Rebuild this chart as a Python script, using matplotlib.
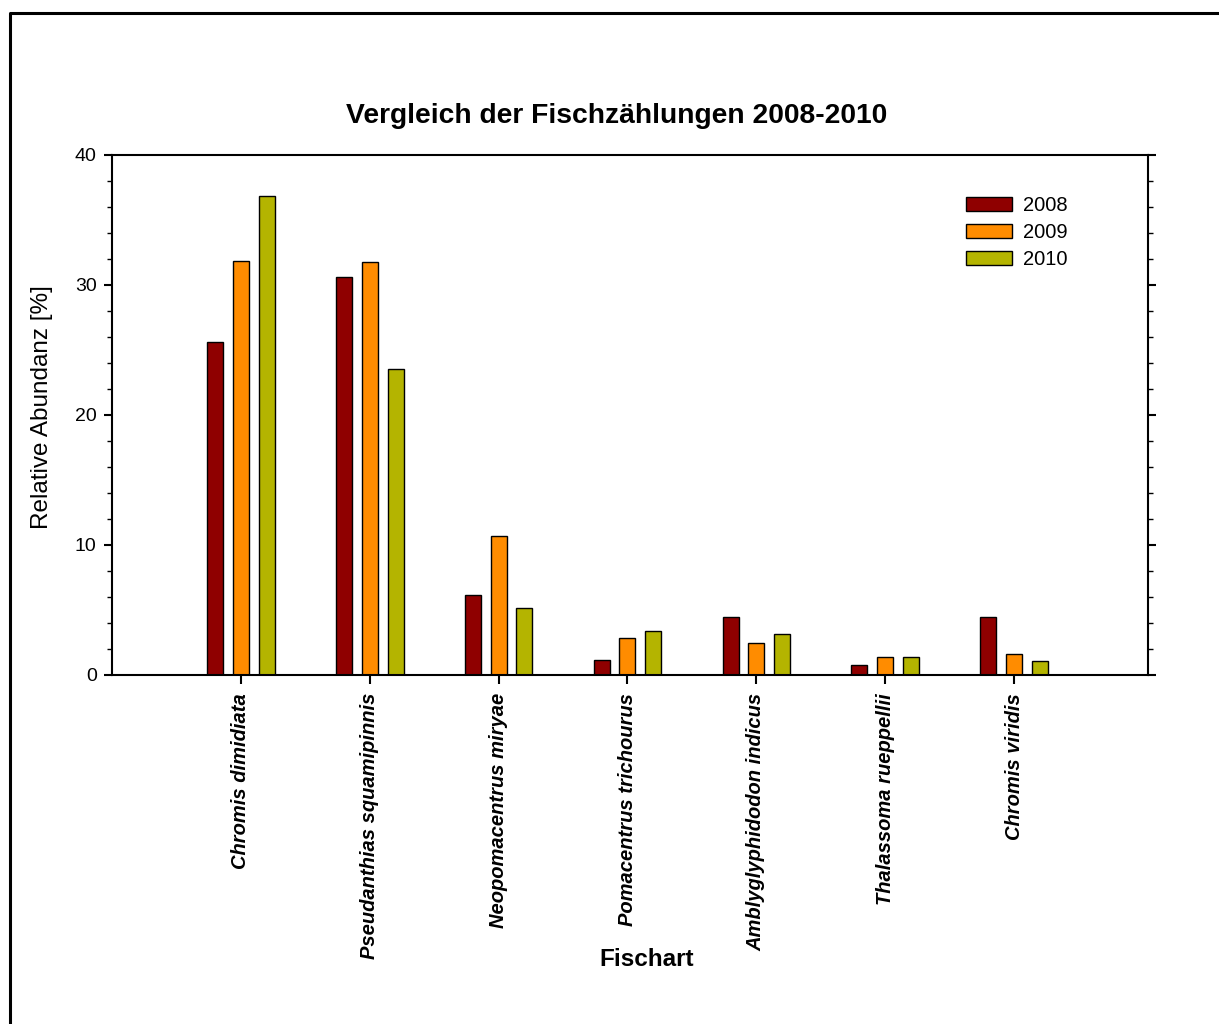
import numpy as np
import matplotlib.pyplot as plt
from matplotlib.lines import Line2D
from matplotlib.ticker import MultipleLocator

plt.rcParams['font.family'] = ['Liberation Sans', 'DejaVu Sans']

# Daten
arten = ['Chromis dimidiata', 'Pseudanthias squamipinnis', 'Neopomacentrus miryae',
         'Pomacentrus trichourus', 'Amblyglyphidodon indicus', 'Thalassoma rueppellii',
         'Chromis viridis']
jahre = ['2008', '2009', '2010']
werte_2008 = [25.6, 30.6, 6.1, 1.15, 4.45, 0.72, 4.45]
werte_2009 = [31.85, 31.75, 10.65, 2.8, 2.45, 1.33, 1.6]
werte_2010 = [36.8, 23.55, 5.15, 3.4, 3.1, 1.4, 1.08]
farben = ['#8f0000', '#ff8c00', '#b4b400']

fig = plt.figure(figsize=(12.19, 10.24), dpi=100)
ax = fig.add_axes([0.0919, 0.3411, 0.8499, 0.5078])

x = np.arange(len(arten))
breite = 0.124
for i, (werte, jahr) in enumerate(zip([werte_2008, werte_2009, werte_2010], jahre)):
    ax.bar(x + (i - 1) * 0.2, werte, breite, color=farben[i], edgecolor='black',
           linewidth=1.0, label=jahr)

ax.set_xlim(-1.0, 7.04)
ax.set_ylim(0, 40)
ax.yaxis.set_major_locator(MultipleLocator(10))
ax.yaxis.set_minor_locator(MultipleLocator(2))
ax.set_xticks(x)
ax.set_xticklabels(arten, rotation=90, fontsize=14.5, fontweight='bold', fontstyle='italic')
ax.tick_params(axis='x', length=6.5, width=1.5, pad=6.5)
ax.tick_params(axis='y', which='major', length=6, width=1.5, labelsize=14, pad=5,
               right=True, direction='out')
ax.tick_params(axis='y', which='minor', length=3.5, width=1.0, right=True, direction='out')
for s in ax.spines.values():
    s.set_linewidth(1.5)

ax.legend(loc='upper left', bbox_to_anchor=(0.824, 0.921), frameon=False, fontsize=14.5,
          handlelength=2.3, handleheight=0.7, handletextpad=0.55, labelspacing=0.4,
          borderpad=0, borderaxespad=0)

fig.text(0.5057, 0.8867, 'Vergleich der Fischzählungen 2008-2010', ha='center', va='center',
         fontsize=20.3, fontweight='bold')
fig.text(42 / 1219, 0.602, 'Relative Abundanz [%]', rotation=90, ha='center', va='center',
         fontsize=17.5)
fig.text(0.5308, 0.0625, 'Fischart', ha='center', va='center', fontsize=17.5, fontweight='bold')

# Rahmen
fig.add_artist(Line2D([10 / 1219, 10 / 1219, 1.01], [-0.01, 1 - 13 / 1024, 1 - 13 / 1024],
                      transform=fig.transFigure, color='black', linewidth=2.2))

fig.savefig('out.png', dpi=100)
